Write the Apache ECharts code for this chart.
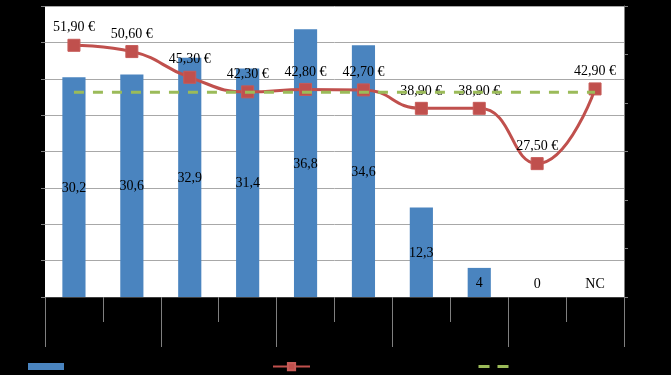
<!DOCTYPE html>
<html>
<head>
<meta charset="utf-8">
<script src="https://cdn.jsdelivr.net/npm/echarts@6/dist/echarts.min.js"></script>
<style>
html,body{margin:0;padding:0;background:#000;}
#c{width:671px;height:375px;}
</style>
</head>
<body>
<div id="c"></div>
<script>
// Data (category names are not legible in the reference: black text on black)
var categories = ['1','2','3','4','5','6','7','8','9','10'];
var groups = ['A','B','C','D','E'];
var barValues = [30.2, 30.6, 32.9, 31.4, 36.8, 34.6, 12.3, 4, 0, null];
var barLabels = ['30,2','30,6','32,9','31,4','36,8','34,6','12,3','4','0','NC'];
var priceValues = [51.90, 50.60, 45.30, 42.30, 42.80, 42.70, 38.90, 38.90, 27.50, 42.90];
var avgValues = [42.2, 42.2, 42.2, 42.2, 42.2, 42.2, 42.2, 42.2, 42.2, 42.2];
var seriesNames = ['Effectif', 'Prix', 'Moyenne'];

var FONT = '"Liberation Serif", "Times New Roman", serif';

var barData = barValues.map(function (v, i) {
  var item = { value: v === null ? 0 : v };
  if (v === null || v === 0) {
    item.label = { position: 'insideBottom', distance: 7 };
  }
  return item;
});

var chart = echarts.init(document.getElementById('c'), null, { renderer: 'canvas' });
var legendBase = {
  orient: 'horizontal',
  formatter: function () { return ''; },
  itemGap: 0,
  padding: 0,
  selectedMode: false
};
chart.setOption({
  backgroundColor: '#000',
  animation: false,
  grid: {
    left: 45, right: 47, top: 6, bottom: 78,
    show: true, backgroundColor: '#fff', borderWidth: 0
  },
  legend: [
    Object.assign({}, legendBase, { left: 28, top: 363, itemWidth: 36, itemHeight: 7, icon: 'rect', data: [seriesNames[0]] }),
    Object.assign({}, legendBase, { left: 272, top: 362, itemWidth: 37, itemHeight: 9, data: [seriesNames[1]] }),
    Object.assign({}, legendBase, { left: 477, top: 362, itemWidth: 30, itemHeight: 9,
      itemStyle: { opacity: 0 },
      lineStyle: { type: [11, 8], width: 3, color: '#9bbb59' },
      data: [seriesNames[2]] })
  ],
  xAxis: [
    {
      type: 'category', data: categories, position: 'bottom',
      axisLine: { show: true, lineStyle: { color: '#404040', width: 1 } },
      axisTick: { show: true, length: 25, lineStyle: { color: '#7f7f7f' } },
      axisLabel: { show: false }
    },
    {
      type: 'category', data: groups, position: 'bottom', gridIndex: 0,
      axisLine: { show: false },
      axisTick: { show: true, length: 50, lineStyle: { color: '#7f7f7f' } },
      axisLabel: { show: false }
    }
  ],
  yAxis: [
    {
      type: 'value', min: 0, max: 40, interval: 5, position: 'left',
      axisLine: { show: false },
      axisTick: { show: true, length: 4, lineStyle: { color: '#7f7f7f' } },
      axisLabel: { show: false },
      splitLine: { show: true, lineStyle: { color: '#a8a8a8', width: 1 } }
    },
    {
      type: 'value', min: 0, max: 60, interval: 10, position: 'right',
      axisLine: { show: true, lineStyle: { color: '#7f7f7f' } },
      axisTick: { show: true, length: 4, lineStyle: { color: '#7f7f7f' } },
      axisLabel: { show: false },
      splitLine: { show: false }
    }
  ],
  series: [
    {
      name: seriesNames[0], type: 'bar', xAxisIndex: 0, yAxisIndex: 0,
      data: barData, barWidth: '40%',
      itemStyle: { color: '#4a84bf' },
      label: {
        show: true, position: 'inside', offset: [0, 1], color: '#000',
        fontFamily: FONT, fontSize: 14,
        formatter: function (p) { return barLabels[p.dataIndex]; }
      }
    },
    {
      name: seriesNames[1], type: 'line', xAxisIndex: 0, yAxisIndex: 1,
      data: priceValues, smooth: 0.5,
      symbol: 'rect', symbolSize: 12,
      itemStyle: { color: '#c0504d', borderColor: '#c65b58', borderWidth: 1 },
      lineStyle: { color: '#c0504d', width: 3 },
      label: {
        show: true, position: 'top', distance: 4, color: '#000',
        fontFamily: FONT, fontSize: 14,
        formatter: function (p) { return p.value.toFixed(2).replace('.', ',') + ' €'; }
      },
      z: 3
    },
    {
      name: seriesNames[2], type: 'line', xAxisIndex: 0, yAxisIndex: 1,
      data: avgValues, symbol: 'none',
      itemStyle: { color: '#9bbb59' },
      lineStyle: { color: '#9bbb59', width: 3, type: [10, 9] },
      z: 4
    }
  ]
});
</script>
</body>
</html>
